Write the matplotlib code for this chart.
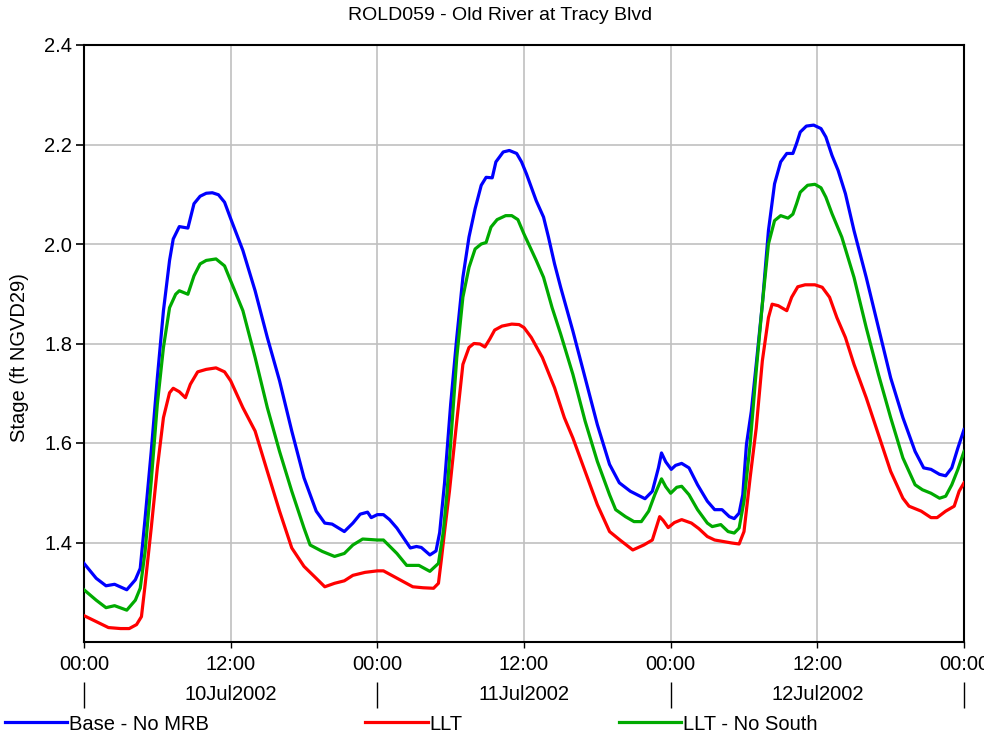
import numpy as np
import matplotlib
matplotlib.use("Agg")
import matplotlib.pyplot as plt

# hours since 00:00 10Jul2002, stage in ft NGVD29
base_hours = [0, 1, 1.8, 2.5, 3.5, 4.2, 4.6, 5, 5.5, 6, 6.5, 7, 7.3, 7.8, 8.5, 9, 9.5, 10, 10.5, 11,
              11.5, 12, 13, 14, 15, 16, 17, 18, 19, 19.7, 20.3, 21.3, 22, 22.6, 23.2, 23.5, 24, 24.5,
              25, 25.6, 26.7, 27.2, 27.6, 28.3, 28.8, 29.1, 29.5, 30, 30.5, 31, 31.5, 32, 32.5, 32.9,
              33.4, 33.7, 34.3, 34.8, 35.4, 35.8, 36.2, 37, 37.6, 38, 38.5, 39, 40, 41, 42, 43, 43.8,
              44.7, 45.9, 46.5, 47, 47.25, 47.6, 48.05, 48.4, 48.9, 49.5, 50.2, 51, 51.6, 52.2, 52.8,
              53.2, 53.6, 53.9, 54.2, 54.6, 55, 55.5, 56, 56.5, 57, 57.5, 58, 58.3, 58.6, 59.1, 59.7,
              60.3, 60.7, 61.2, 61.7, 62.3, 63, 64, 65, 66, 67, 68, 68.7, 69.3, 70, 70.5, 71, 71.5, 72]
base_stage = [1.358, 1.328, 1.313, 1.316, 1.305, 1.325, 1.348, 1.449, 1.583, 1.731, 1.866, 1.967,
              2.010, 2.035, 2.032, 2.081, 2.096, 2.102, 2.103, 2.099, 2.084, 2.051, 1.987, 1.906,
              1.812, 1.725, 1.624, 1.530, 1.463, 1.439, 1.437, 1.422, 1.439, 1.457, 1.461, 1.450,
              1.456, 1.456, 1.446, 1.429, 1.389, 1.392, 1.390, 1.375, 1.383, 1.420, 1.520, 1.678,
              1.812, 1.933, 2.014, 2.071, 2.118, 2.134, 2.133, 2.165, 2.185, 2.188, 2.182, 2.165,
              2.141, 2.087, 2.054, 2.014, 1.960, 1.913, 1.825, 1.731, 1.637, 1.557, 1.520, 1.503,
              1.488, 1.503, 1.550, 1.580, 1.562, 1.547, 1.555, 1.559, 1.550, 1.516, 1.483, 1.466,
              1.466, 1.452, 1.448, 1.459, 1.496, 1.597, 1.664, 1.758, 1.879, 2.027, 2.121, 2.165,
              2.182, 2.182, 2.202, 2.225, 2.237, 2.239, 2.232, 2.215, 2.178, 2.148, 2.101, 2.027,
              1.933, 1.832, 1.731, 1.651, 1.583, 1.550, 1.547, 1.537, 1.534, 1.550, 1.590, 1.627]

llt_hours = [0, 1, 2, 3, 3.7, 4.3, 4.7, 5, 5.5, 6, 6.5, 7, 7.3, 7.8, 8.3, 8.7, 9.3, 10, 10.8, 11.5,
             12, 13, 14, 15, 16, 17, 18, 19, 19.7, 20.5, 21.3, 22, 23, 24, 24.5, 25.85, 26.9, 27.75,
             28.6, 29, 29.25, 29.5, 29.9, 30.5, 31, 31.5, 31.9, 32.4, 32.8, 33.2, 33.6, 34.2, 35,
             35.6, 36, 36.6, 37.5, 38.5, 39.3, 40, 41, 42, 43, 43.85, 44.9, 45.8, 46.5, 47.1, 47.4,
             47.8, 48.3, 48.9, 49.7, 50.3, 51, 51.6, 52.3, 53, 53.6, 54, 54.5, 55, 55.5, 56, 56.3,
             56.8, 57.5, 57.9, 58.4, 59, 59.8, 60.4, 61, 61.6, 62.3, 63, 64, 65, 66, 67, 67.5, 68.5,
             69.3, 69.8, 70.5, 71.2, 71.6, 72]
llt_stage = [1.253, 1.241, 1.229, 1.227, 1.227, 1.235, 1.251, 1.315, 1.429, 1.550, 1.651, 1.701,
             1.710, 1.703, 1.691, 1.718, 1.743, 1.748, 1.751, 1.743, 1.725, 1.671, 1.624, 1.543,
             1.463, 1.389, 1.352, 1.328, 1.311, 1.318, 1.323, 1.334, 1.340, 1.343, 1.343, 1.325,
             1.311, 1.309, 1.308, 1.318, 1.368, 1.422, 1.503, 1.644, 1.758, 1.792, 1.800, 1.799,
             1.793, 1.809, 1.827, 1.835, 1.839, 1.838, 1.832, 1.812, 1.772, 1.711, 1.651, 1.610,
             1.543, 1.476, 1.422, 1.405, 1.385, 1.395, 1.405, 1.452, 1.444, 1.430, 1.440, 1.446,
             1.439, 1.428, 1.412, 1.405, 1.402, 1.399, 1.397, 1.422, 1.530, 1.630, 1.765, 1.852,
             1.879, 1.876, 1.866, 1.893, 1.914, 1.918, 1.918, 1.913, 1.893, 1.852, 1.812, 1.758,
             1.691, 1.617, 1.543, 1.489, 1.473, 1.463, 1.450, 1.450, 1.463, 1.473, 1.503, 1.520]

south_hours = [0, 1, 1.8, 2.5, 3.5, 4.2, 4.6, 5, 5.5, 6, 6.5, 7, 7.5, 7.8, 8.5, 9, 9.5, 10, 10.8,
               11.5, 12, 13, 14, 15, 16, 17, 18, 18.5, 19.5, 20.5, 21.3, 22, 22.8, 24, 24.5, 25.6,
               26.4, 27.4, 28.3, 29, 29.4, 29.7, 30, 30.5, 31, 31.5, 32, 32.5, 32.9, 33.3, 33.8,
               34.5, 35, 35.5, 36, 37, 37.6, 38.3, 39, 40, 41, 42, 43, 43.5, 44.3, 45, 45.6, 46.2,
               46.7, 47.25, 47.6, 48, 48.5, 48.9, 49.5, 50.2, 51, 51.4, 52.1, 52.7, 53.2, 53.6, 54,
               54.5, 55, 55.5, 56, 56.5, 57, 57.6, 58, 58.3, 58.6, 59.2, 59.8, 60.3, 60.7, 61.2, 62,
               63, 64, 65, 66, 67, 68, 68.6, 69.3, 70, 70.5, 71, 71.5, 72]
south_stage = [1.305, 1.284, 1.269, 1.273, 1.264, 1.284, 1.308, 1.382, 1.523, 1.678, 1.792, 1.872,
               1.899, 1.906, 1.899, 1.936, 1.960, 1.967, 1.970, 1.956, 1.926, 1.866, 1.772, 1.671,
               1.583, 1.503, 1.429, 1.395, 1.382, 1.372, 1.378, 1.395, 1.407, 1.405, 1.405, 1.378,
               1.354, 1.354, 1.342, 1.358, 1.422, 1.500, 1.600, 1.772, 1.893, 1.953, 1.990, 2.000,
               2.003, 2.034, 2.049, 2.057, 2.057, 2.049, 2.020, 1.967, 1.933, 1.872, 1.819, 1.738,
               1.644, 1.563, 1.496, 1.466, 1.452, 1.442, 1.442, 1.463, 1.496, 1.528, 1.512, 1.499,
               1.511, 1.513, 1.496, 1.466, 1.439, 1.432, 1.436, 1.422, 1.419, 1.429, 1.483, 1.597,
               1.745, 1.879, 2.000, 2.047, 2.057, 2.052, 2.060, 2.081, 2.104, 2.118, 2.120, 2.113,
               2.094, 2.061, 2.014, 1.933, 1.832, 1.738, 1.651, 1.570, 1.516, 1.506, 1.499, 1.489,
               1.493, 1.516, 1.547, 1.583]

time_ticks = [0, 12, 24, 36, 48, 60, 72]
time_labels = ["00:00", "12:00", "00:00", "12:00", "00:00", "12:00", "00:00"]
day_bounds = [0, 24, 48, 72]
day_mids = [12, 36, 60]
day_labels = ["10Jul2002", "11Jul2002", "12Jul2002"]
y_ticks = [1.4, 1.6, 1.8, 2.0, 2.2, 2.4]

plt.rcParams['font.family'] = ['Liberation Sans', 'DejaVu Sans']
fs = 14.5

fig = plt.figure(figsize=(9.84, 7.4), dpi=100)
ax = fig.add_axes([84/984, 1 - 642/740, 880/984, 597/740])

ax.plot(base_hours, base_stage, color='#0000ff', lw=2.3, label="Base - No MRB", zorder=3)
ax.plot(llt_hours, llt_stage, color='#ff0000', lw=2.3, label="LLT", zorder=3)
ax.plot(south_hours, south_stage, color='#00aa00', lw=2.3, label="LLT - No South", zorder=3)

ax.set_xlim(0, 72)
ax.set_ylim(1.2, 2.4)
ax.set_yticks(y_ticks)
ax.set_yticklabels(["%.1f" % v for v in y_ticks])
ax.set_xticks(time_ticks)
ax.set_xticklabels(time_labels)
ax.grid(True, color='#c0c0c0', lw=1.2, zorder=0)
ax.tick_params(axis='y', direction='out', length=5.5, width=1.2, pad=3, labelsize=fs)
ax.tick_params(axis='x', direction='out', length=4.5, width=1.0, pad=5, labelsize=fs)
for s in ax.spines.values():
    s.set_linewidth(1.5)
    s.set_color('black')

# second row: day labels between day boundary marks
sec = ax.secondary_xaxis(-0.067)
sec.spines['bottom'].set_visible(False)
sec.set_xticks(day_bounds)
sec.set_xticklabels([""] * len(day_bounds))
sec.set_xticks(day_mids, minor=True)
sec.set_xticklabels(day_labels, minor=True)
sec.tick_params(axis='x', which='major', direction='out', length=19, width=1.0)
sec.tick_params(axis='x', which='minor', length=0, pad=2, labelsize=fs)

fig.text(500/984, 1 - 15/740, "ROLD059 - Old River at Tracy Blvd", ha='center', va='center', fontsize=14)
fig.text(20/984, 1 - 358/740, "Stage (ft NGVD29)", rotation=90, ha='center', va='center', fontsize=fs)

fig.legend(loc='center left', bbox_to_anchor=(5/984, 1 - 724/740), ncol=3, frameon=False,
           fontsize=fs, handlelength=3.1, handletextpad=0.1, columnspacing=7.75,
           borderaxespad=0, borderpad=0)

fig.savefig("out.png", dpi=100)
